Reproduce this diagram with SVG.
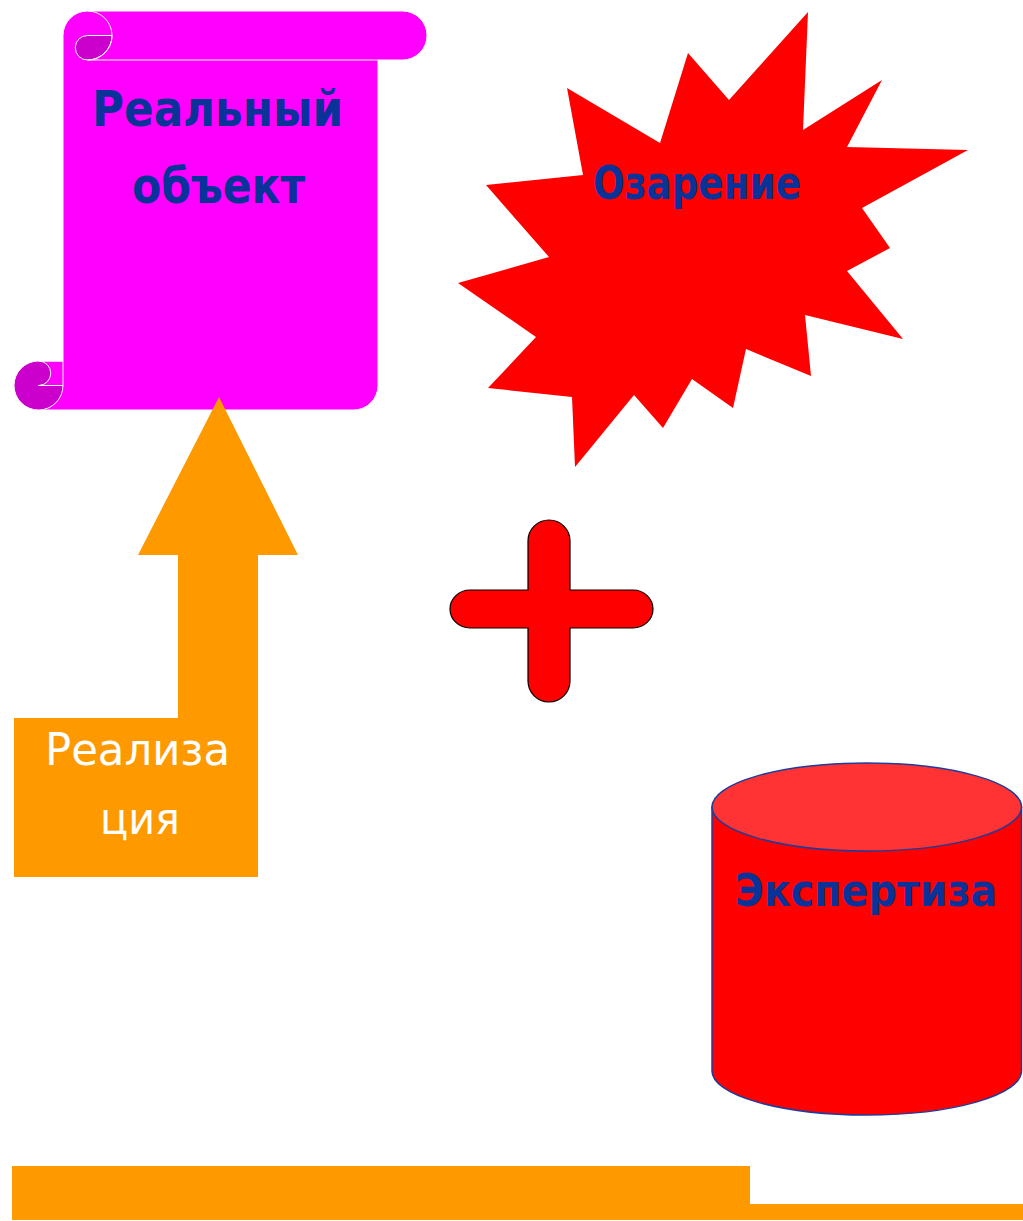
<svg xmlns="http://www.w3.org/2000/svg" width="1023" height="1221" viewBox="0 0 1023 1221">
  <style>
    .lbl { font-family: "DejaVu Sans", "Liberation Sans", sans-serif; }
    .blue { fill: #0A3399; font-weight: bold; }
    .white { fill: #FFFFFF; }
    .orange { fill: #FF9900; }
    .red { fill: #FF0000; }
    .edge { fill: none; stroke: #FFFFFF; stroke-width: 1; }
  </style>
  <rect x="0" y="0" width="1023" height="1221" fill="#FFFFFF"/>

  <!-- Scroll: "Реальный объект" -->
  <g id="real-object">
    <path d="M38.5,410 A24.5,24.5 0 0 1 63,385.5 L38.5,385.5 A12.25,12.25 0 0 1 38.5,361 L63,361 L63,35.5 A24.5,24.5 0 0 1 87.5,11 L402.5,11 A24.5,24.5 0 0 1 402.5,60 L378,60 L378,385.5 A24.5,24.5 0 0 1 353.5,410 Z" fill="#FF00FF" stroke="#FFFFFF" stroke-width="1"/>
    <!-- top curl -->
    <path d="M112,35.5 A24.5,24.5 0 0 1 87.5,60 A12.25,12.25 0 0 1 87.5,35.5 Z" fill="#CC00CC" stroke="#FFFFFF" stroke-width="1"/>
    <path class="edge" d="M87.5,11 A24.5,24.5 0 0 1 87.5,60"/>
    <path class="edge" d="M87.5,60 L378,60"/>
    <!-- bottom curl -->
    <path d="M63,385.5 A24.5,24.5 0 1 1 38.5,361 A12.25,12.25 0 0 1 38.5,385.5 Z" fill="#CC00CC" stroke="#FFFFFF" stroke-width="1"/>
    <path class="edge" d="M38.5,361 L63,361 L63,385.5"/>
    <text class="lbl blue" x="92" y="126" font-size="50" textLength="251" lengthAdjust="spacingAndGlyphs">Реальный</text>
    <text class="lbl blue" x="132" y="203" font-size="50" textLength="173" lengthAdjust="spacingAndGlyphs">объект</text>
  </g>

  <!-- Explosion: "Озарение" -->
  <g id="insight">
    <polygon class="red" points="808,12 803,130 882,80 847,147 968,150 862,208 890,248 847,271 903,339 805,315 811,376 746,349 733,408 692,379 663,428 634,395 575,467 572,397 488,388 536,337 458,283 549,257 486,185 583,175 567,88 660,143 688,53 729,100"/>
    <text class="lbl blue" x="593" y="199" font-size="46" textLength="208" lengthAdjust="spacingAndGlyphs">Озарение</text>
  </g>

  <!-- Plus sign -->
  <g id="plus">
    <path class="red" d="M528,541 A21,21 0 0 1 570,541 L570,590 L633,590 A20,19 0 0 1 633,628 L570,628 L570,681 A21,21 0 0 1 528,681 L528,628 L470,628 A20,19 0 0 1 470,590 L528,590 Z" stroke="#000000" stroke-width="1.2"/>
  </g>

  <!-- Cylinder: "Экспертиза" -->
  <g id="expertise">
    <path class="red" d="M712,807 L712,1071 A154.75,44 0 0 0 1021.5,1071 L1021.5,807 Z" stroke="#1F3C9A" stroke-width="1.5"/>
    <ellipse cx="866.75" cy="807" rx="154.75" ry="44" fill="#FF3333" stroke="#1F3C9A" stroke-width="1.5"/>
    <text class="lbl blue" x="866" y="906" font-size="45" text-anchor="middle" transform="translate(866,0) scale(0.88,1) translate(-866,0)">Экспертиза</text>
  </g>

  <!-- Bottom step bar -->
  <g id="base-bar">
    <polygon class="orange" points="12,1166 750,1166 750,1204 1023,1204 1023,1220 12,1220"/>
  </g>

  <g id="connectors">
    <!-- Bent-up arrow "Реализация" leading into the scroll -->
    <g id="realization">
      <polygon class="orange" points="14,718 178,718 178,555 138,555 219,397 298,555 258,555 258,877 14,877"/>
      <text class="lbl white" x="45" y="765" font-size="44" textLength="185" lengthAdjust="spacingAndGlyphs">Реализа</text>
      <text class="lbl white" x="100" y="834" font-size="44" textLength="80" lengthAdjust="spacingAndGlyphs">ция</text>
    </g>
  </g>
</svg>
